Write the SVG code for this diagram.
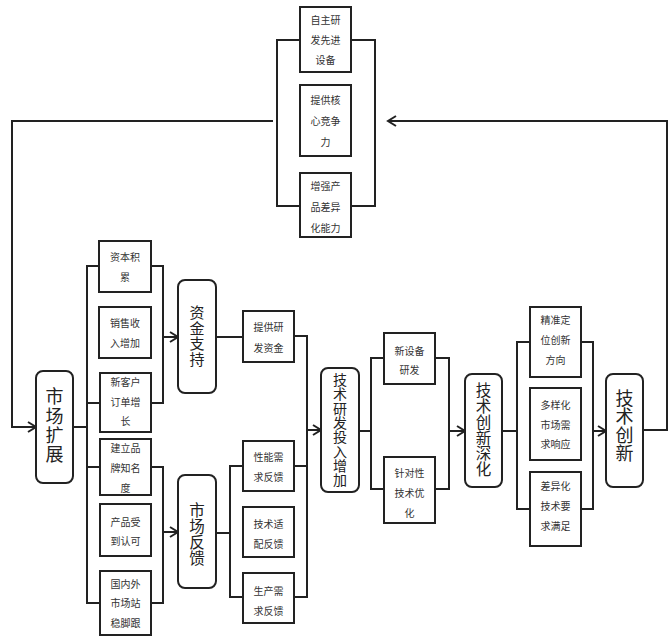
<svg xmlns="http://www.w3.org/2000/svg" width="669" height="639" viewBox="0 0 669 639">
<defs>
<marker id="arr" markerUnits="userSpaceOnUse" markerWidth="12" markerHeight="12" refX="9" refY="6" orient="auto">
<path d="M1,1 L9,6 L1,11" fill="none" stroke="#222" stroke-width="2"/>
</marker>
</defs>
<style>
.box{fill:#fff;stroke:#222;stroke-width:2}
.rbox{fill:#fff;stroke:#222;stroke-width:2}
.s{font-family:"Noto Sans CJK SC","Noto Sans",sans-serif;font-size:10px;fill:#333;text-anchor:middle}
.b{font-family:"Noto Sans CJK SC","Noto Sans",sans-serif;fill:#222;text-anchor:middle;writing-mode:vertical-rl;text-orientation:upright}
.c{fill:none;stroke:#222;stroke-width:2}
</style>
<rect width="669" height="639" fill="#fff"/>
<g id="connectors">
<path class="c" d="M273,121 H12 V427 H36" marker-end="url(#arr)"/>
<path class="c" d="M643,430 H667 V121 H388" marker-end="url(#arr)"/>
<path class="c" d="M300,40 H277 V206 H300"/>
<path class="c" d="M351,40 H375 V206 H351"/>
<path class="c" d="M73,427 H87"/>
<path class="c" d="M100,266 H87 V603 H100"/>
<path class="c" d="M87,403 H100 M87,467 H100"/>
<path class="c" d="M151,266 H163 V403 H151"/>
<path class="c" d="M163,337 H178" marker-end="url(#arr)"/>
<path class="c" d="M151,467 H163 V603 H151"/>
<path class="c" d="M163,532 H178" marker-end="url(#arr)"/>
<path class="c" d="M216,337 H243"/>
<path class="c" d="M294,336 H307 V597 H294 M307,466 H294"/>
<path class="c" d="M307,430 H321" marker-end="url(#arr)"/>
<path class="c" d="M216,533 H230 M243,466 H230 V597 H243"/>
<path class="c" d="M359,431 H371 M384,358 H371 V489 H384"/>
<path class="c" d="M435,358 H449 V489 H435"/>
<path class="c" d="M449,431 H465" marker-end="url(#arr)"/>
<path class="c" d="M502,431 H517 M530,342 H517 V509 H530"/>
<path class="c" d="M581,342 H593 V509 H581"/>
<path class="c" d="M593,431 H606" marker-end="url(#arr)"/>
</g>
<g id="n_zizhu"><rect class="box" x="300" y="7" width="51" height="65"/><text class="s" x="325.5" y="23.5">自主研</text><text class="s" x="325.5" y="44">发先进</text><text class="s" x="325.5" y="63.5">设备</text></g>
<g id="n_tigonghexin"><rect class="box" x="300" y="85" width="51" height="71"/><text class="s" x="325.5" y="103.5">提供核</text><text class="s" x="325.5" y="125">心竞争</text><text class="s" x="325.5" y="145.5">力</text></g>
<g id="n_zengqiang"><rect class="box" x="300" y="173" width="51" height="64"/><text class="s" x="325.5" y="189.5">增强产</text><text class="s" x="325.5" y="210.5">品差异</text><text class="s" x="325.5" y="231.5">化能力</text></g>
<g id="n_shichangkuozhan"><rect class="rbox" x="36" y="371" width="37" height="112" rx="7"/><text class="b" font-size="18" letter-spacing="1.3" x="54.5" y="426">市场扩展</text></g>
<g id="n_ziben"><rect class="box" x="99" y="241" width="52" height="51"/><text class="s" x="125" y="260.5">资本积</text><text class="s" x="125" y="280.5">累</text></g>
<g id="n_xiaoshou"><rect class="box" x="99" y="307" width="52" height="51"/><text class="s" x="125" y="326.5">销售收</text><text class="s" x="125" y="346.5">入增加</text></g>
<g id="n_xinkehu"><rect class="box" x="100" y="373" width="51" height="59"/><text class="s" x="125.5" y="385.5">新客户</text><text class="s" x="125.5" y="405.5">订单增</text><text class="s" x="125.5" y="424.5">长</text></g>
<g id="n_pinpai"><rect class="box" x="100" y="439" width="51" height="56"/><text class="s" x="125.5" y="451.5">建立品</text><text class="s" x="125.5" y="471.5">牌知名</text><text class="s" x="125.5" y="491.5">度</text></g>
<g id="n_renke"><rect class="box" x="100" y="504" width="51" height="52"/><text class="s" x="125.5" y="525.5">产品受</text><text class="s" x="125.5" y="544.5">到认可</text></g>
<g id="n_guoneiwai"><rect class="box" x="100" y="571" width="51" height="64"/><text class="s" x="125.5" y="587.5">国内外</text><text class="s" x="125.5" y="606.5">市场站</text><text class="s" x="125.5" y="626.5">稳脚跟</text></g>
<g id="n_zijin"><rect class="rbox" x="178" y="280" width="38" height="113" rx="7"/><text class="b" font-size="15" letter-spacing="0.5" x="197" y="336">资金支持</text></g>
<g id="n_shichangfankui"><rect class="rbox" x="178" y="475" width="38" height="113" rx="7"/><text class="b" font-size="15.5" letter-spacing="0.5" x="197" y="534">市场反馈</text></g>
<g id="n_tigongyanfa"><rect class="box" x="243" y="311" width="51" height="51"/><text class="s" x="268.5" y="330.5">提供研</text><text class="s" x="268.5" y="351.5">发资金</text></g>
<g id="n_xingneng"><rect class="box" x="243" y="441" width="51" height="50"/><text class="s" x="268.5" y="460.5">性能需</text><text class="s" x="268.5" y="480.5">求反馈</text></g>
<g id="n_shipei"><rect class="box" x="243" y="507" width="51" height="50"/><text class="s" x="268.5" y="527.5">技术适</text><text class="s" x="268.5" y="547.5">配反馈</text></g>
<g id="n_shengchan"><rect class="box" x="243" y="573" width="51" height="50"/><text class="s" x="268.5" y="594.5">生产需</text><text class="s" x="268.5" y="614.5">求反馈</text></g>
<g id="n_touru"><rect class="rbox" x="321" y="368" width="38" height="124" rx="7"/><text class="b" font-size="14" letter-spacing="0.3" x="340" y="430">技术研发投入增加</text></g>
<g id="n_xinshebei"><rect class="box" x="384" y="333" width="51" height="51"/><text class="s" x="409.5" y="354.5">新设备</text><text class="s" x="409.5" y="373.5">研发</text></g>
<g id="n_zhenduixing"><rect class="box" x="384" y="457" width="51" height="66"/><text class="s" x="409.5" y="476.5">针对性</text><text class="s" x="409.5" y="496.5">技术优</text><text class="s" x="409.5" y="516.5">化</text></g>
<g id="n_shenhua"><rect class="rbox" x="465" y="374" width="37" height="113" rx="7"/><text class="b" font-size="15.5" letter-spacing="0.3" x="483.5" y="430">技术创新深化</text></g>
<g id="n_jingzhun"><rect class="box" x="530" y="307" width="51" height="70"/><text class="s" x="555.5" y="323.5">精准定</text><text class="s" x="555.5" y="343.5">位创新</text><text class="s" x="555.5" y="363.5">方向</text></g>
<g id="n_duoyang"><rect class="box" x="530" y="388" width="51" height="72"/><text class="s" x="555.5" y="408.5">多样化</text><text class="s" x="555.5" y="428.5">市场需</text><text class="s" x="555.5" y="447.5">求响应</text></g>
<g id="n_chayi"><rect class="box" x="530" y="472" width="51" height="74"/><text class="s" x="555.5" y="489.5">差异化</text><text class="s" x="555.5" y="509.5">技术要</text><text class="s" x="555.5" y="529.5">求满足</text></g>
<g id="n_jishuchuangxin"><rect class="rbox" x="606" y="374" width="37" height="113" rx="7"/><text class="b" font-size="18" letter-spacing="0.5" x="624.5" y="426">技术创新</text></g>
</svg>
